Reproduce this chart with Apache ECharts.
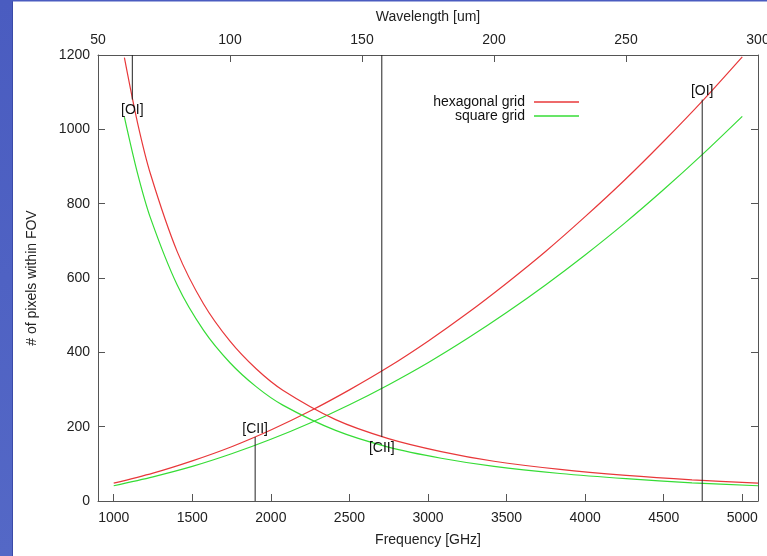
<!DOCTYPE html>
<html>
<head>
<meta charset="utf-8">
<script src="https://cdn.jsdelivr.net/npm/echarts@6/dist/echarts.min.js"></script>
<style>
html,body{margin:0;padding:0;background:#fff;}
#c{width:767px;height:556px;}
</style>
</head>
<body>
<div id="c"></div>
<script>
// ---- data ----
const freqGHz = [1000,1250,1500,1750,2000,2250,2500,2750,3000,3250,3500,3750,4000,4250,4500,4750,5000];
const hexVsFreq = [48,75,108,146,191,242,299,361,430,505,586,672,765,863,968,1078,1195];
const sqVsFreq  = [41,65,93,127,166,210,259,313,372,437,507,582,662,747,838,934,1035];

const wavelengthUm = [60,65,70,80,90,100,110,120,140,160,180,200,225,250,275,300];
const hexVsWave = [1193,1017,877,671,530,430,355,298,219,168,133,107,85,69,57,48];
const sqVsWave  = [1033,881,759,581,459,372,307,258,190,145,115,93,74,60,49,41];

const freqTicks = [1000,1500,2000,2500,3000,3500,4000,4500,5000];
const waveTicks = [50,100,150,200,250,300];
const countTicks = [0,200,400,600,800,1000,1200];

const markNames = ['[OI]','[CII]','[CII]','[OI]'];
const markAxis  = ['wavelength','wavelength','frequency','frequency'];
const markAt    = [63,157.5,1900,4745];
const markFrom  = [1200,1200,0,0];
const markTo    = [1080,172,172,1080];

const seriesNames = ['hexagonal grid','square grid'];
// --------------------------------------

const FONT = '"Liberation Sans", Arial, Helvetica, sans-serif';
const RED = '#e8383a', GREEN = '#36dc36', AXIS = '#555';

const chart = echarts.init(document.getElementById('c'), null, {renderer:'canvas'});

function zip(xs, ys){ return xs.map((x,i)=>[x, ys[i]]); }

const curveBase = {type:'line', symbol:'none', smooth:0.3, animation:false, silent:true, z:3};

const series = [
  Object.assign({}, curveBase, {name:seriesNames[0], xAxisIndex:0, yAxisIndex:0, data:zip(freqGHz, hexVsFreq), lineStyle:{color:RED, width:1.2}, itemStyle:{color:RED}}),
  Object.assign({}, curveBase, {name:seriesNames[1], xAxisIndex:0, yAxisIndex:0, data:zip(freqGHz, sqVsFreq), lineStyle:{color:GREEN, width:1.2}, itemStyle:{color:GREEN}}),
  Object.assign({}, curveBase, {name:seriesNames[0], xAxisIndex:1, yAxisIndex:0, data:zip(wavelengthUm, hexVsWave), lineStyle:{color:RED, width:1.2}, itemStyle:{color:RED}}),
  Object.assign({}, curveBase, {name:seriesNames[1], xAxisIndex:1, yAxisIndex:0, data:zip(wavelengthUm, sqVsWave), lineStyle:{color:GREEN, width:1.2}, itemStyle:{color:GREEN}})
];

markNames.forEach((nm, i) => {
  const up = markTo[i] > markFrom[i];
  series.push({
    type:'line', name:'mark'+i, symbol:'circle', symbolSize:0, animation:false, silent:true, z:4,
    xAxisIndex: markAxis[i]==='frequency' ? 0 : 1, yAxisIndex:0,
    lineStyle:{color:'#222', width:1},
    itemStyle:{color:'#222'},
    data:[
      {value:[markAt[i], markFrom[i]]},
      {value:[markAt[i], markTo[i]], label:{show:true, formatter:nm, position: up ? 'top' : 'bottom', distance: up ? 1 : 4, color:'#111', fontSize:14, fontFamily:FONT}}
    ]
  });
});

const axisLineStyle = {show:true, onZero:false, lineStyle:{color:AXIS, width:1}};
const labelStyle = {color:'#222', fontSize:14, fontFamily:FONT};
const plain = v => String(v);

chart.setOption({
  backgroundColor:'#fff',
  animation:false,
  graphic:[
    {type:'rect', left:0, top:0, shape:{width:12, height:556}, style:{fill:new echarts.graphic.LinearGradient(0,0,0,1,[{offset:0,color:'#4a5cc0'},{offset:1,color:'#5468c6'}])}, z:100},
    {type:'rect', left:12, top:0, shape:{width:1, height:556}, style:{fill:'#3a4aa8'}, z:100},
    {type:'rect', left:0, top:0, shape:{width:767, height:1.5}, style:{fill:'#4a5cc0'}, z:100}
  ],
  grid:{left:98, right:9, top:55, bottom:55, containLabel:false, outerBoundsMode:'none'},
  legend:{
    data:seriesNames, orient:'vertical', align:'right', right:183, top:90,
    icon:'rect', itemWidth:45, itemHeight:1.3, itemGap:0, selectedMode:false,
    textStyle:{color:'#111', fontSize:14, fontFamily:FONT, lineHeight:13, padding:[0,4,0,0]}
  },
  xAxis:[
    {type:'value', position:'bottom', min:900, max:5100,
     name:'Frequency [GHz]', nameLocation:'middle', nameGap:32, nameTextStyle:labelStyle,
     axisLine:axisLineStyle, splitLine:{show:false},
     axisTick:{show:true, inside:true, length:7, lineStyle:{color:AXIS}, customValues:freqTicks},
     axisLabel:Object.assign({margin:10, customValues:freqTicks, formatter:plain}, labelStyle)},
    {type:'value', position:'top', min:50, max:300, interval:50,
     name:'Wavelength [um]', nameLocation:'middle', nameGap:31, nameTextStyle:labelStyle,
     axisLine:axisLineStyle, splitLine:{show:false},
     axisTick:{show:true, inside:true, length:7, lineStyle:{color:AXIS}},
     axisLabel:Object.assign({margin:8, formatter:plain}, labelStyle)}
  ],
  yAxis:[
    {type:'value', position:'left', min:0, max:1200, interval:200,
     name:'# of pixels within FOV', nameLocation:'middle', nameGap:59, nameRotate:90, nameTextStyle:labelStyle,
     axisLine:axisLineStyle, splitLine:{show:false},
     axisTick:{show:true, inside:true, length:7, lineStyle:{color:AXIS}},
     axisLabel:Object.assign({margin:8, formatter:plain}, labelStyle)},
    {type:'value', position:'right', min:0, max:1200, interval:200,
     axisLine:axisLineStyle, splitLine:{show:false},
     axisTick:{show:true, inside:true, length:7, lineStyle:{color:AXIS}},
     axisLabel:{show:false}}
  ],
  series:series
});
</script>
</body>
</html>
